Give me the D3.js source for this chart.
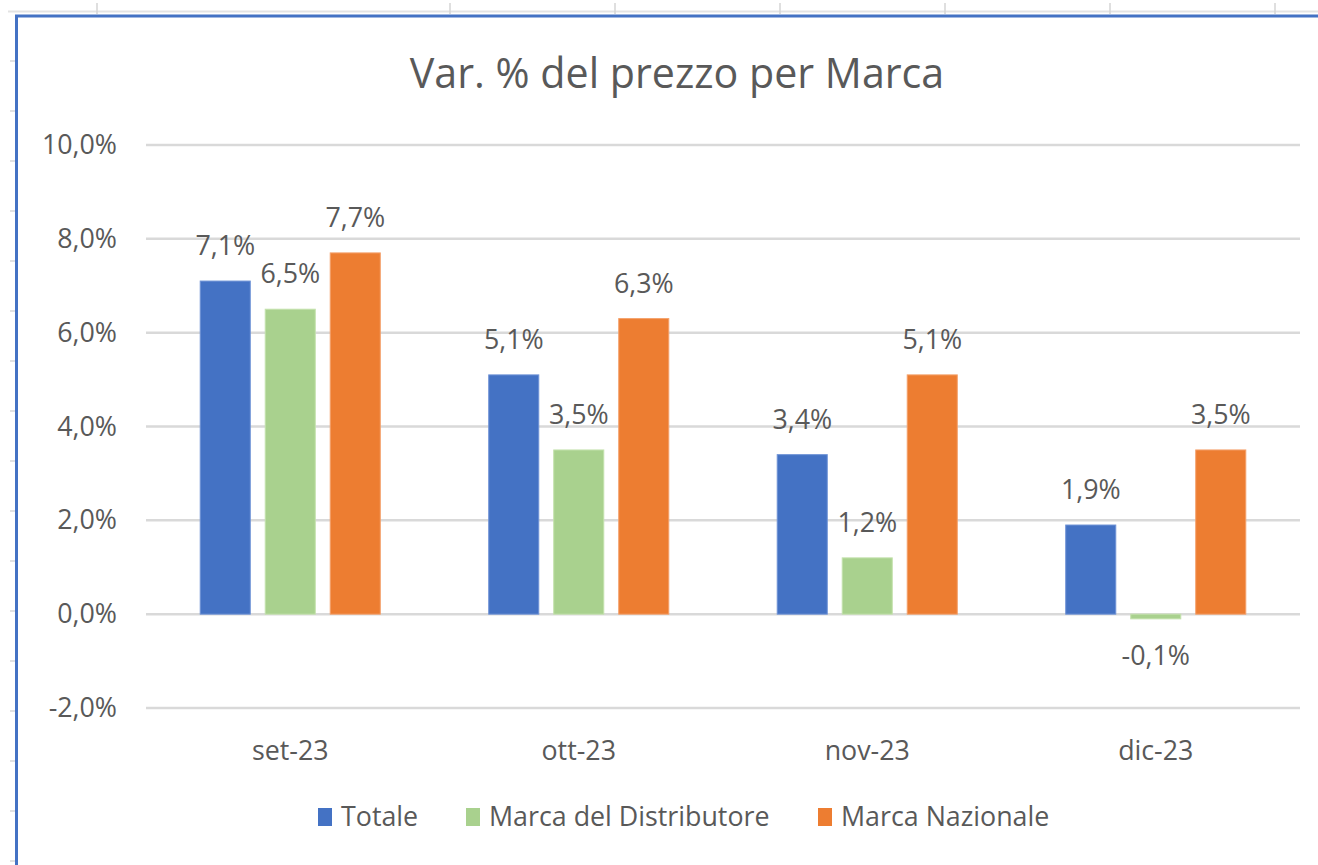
<!DOCTYPE html>
<html>
<head>
<meta charset="utf-8">
<script src="https://cdn.jsdelivr.net/npm/d3@7"></script>
<style>
  html, body { margin: 0; padding: 0; background: #ffffff; }
  svg { display: block; }
  text { font-family: "Open Sans", "Noto Sans", sans-serif; fill: #595959; }
</style>
</head>
<body>
<svg id="chart" width="1318" height="865"></svg>
<script>
// Chart data
const categories = ["set-23", "ott-23", "nov-23", "dic-23"];
const seriesNames = ["Totale", "Marca del Distributore", "Marca Nazionale"];
const totale = [7.1, 5.1, 3.4, 1.9];
const marcaDistributore = [6.5, 3.5, 1.2, -0.1];
const marcaNazionale = [7.7, 6.3, 5.1, 3.5];
const yTicks = [-2, 0, 2, 4, 6, 8, 10];
const seriesColors = ["#4472C4", "#A9D18E", "#ED7D31"];
const seriesEdges = ["#6f93d6", "#c4e2ad", "#f4a06a"];
const titleText = "Var. % del prezzo per Marca";

const seriesValues = [totale, marcaDistributore, marcaNazionale];

const svg = d3.select("#chart");
const W = 1318, H = 865;
const labelSize = "26.8px";

// Worksheet backdrop: header line with column marks, row marks on the left
const sheet = svg.append("g");
sheet.append("line")
  .attr("x1", 8).attr("x2", W).attr("y1", 11.5).attr("y2", 11.5)
  .attr("stroke", "#e3e3e3").attr("stroke-width", 2);
[97, 450, 615, 780, 945, 1110, 1275].forEach(cx => {
  sheet.append("line")
    .attr("x1", cx).attr("x2", cx).attr("y1", 3).attr("y2", 14)
    .attr("stroke", "#d4d4d4").attr("stroke-width", 1.5);
});
d3.range(61, H, 50).forEach(ry => {
  sheet.append("line")
    .attr("x1", 10).attr("x2", 16).attr("y1", ry).attr("y2", ry)
    .attr("stroke", "#d9d9d9").attr("stroke-width", 1.5);
});

// Chart frame (selected chart object)
svg.append("rect")
  .attr("x", 16.5).attr("y", 16)
  .attr("width", W + 40).attr("height", H + 40)
  .attr("fill", "#ffffff")
  .attr("stroke", "#4472C4").attr("stroke-width", 3);

// Title
svg.append("text")
  .attr("x", 677).attr("y", 88)
  .attr("text-anchor", "middle")
  .style("font-size", "41.2px")
  .text(titleText);

// Scales
const plotLeft = 146, plotRight = 1300;
const x0 = d3.scaleBand().domain(categories).range([plotLeft, plotRight]).paddingInner(0).paddingOuter(0);
const x1 = d3.scaleBand().domain(seriesNames).range([0, x0.bandwidth()]).paddingInner(0.23).paddingOuter(0.834);
const y = d3.scaleLinear().domain([-2, 10]).range([708, 145]);

// Horizontal gridlines
svg.append("g")
  .selectAll("line")
  .data(yTicks)
  .join("line")
  .attr("x1", plotLeft).attr("x2", plotRight)
  .attr("y1", d => y(d)).attr("y2", d => y(d))
  .attr("stroke", "#d9d9d9").attr("stroke-width", 2.5);

// Y axis labels
const fmtPct = v => d3.format(".1f")(v).replace(".", ",").replace("−", "-") + "%";
const yAxis = d3.axisLeft(y).tickValues(yTicks).tickSize(0).tickPadding(0).tickFormat(fmtPct);
const yg = svg.append("g").attr("transform", "translate(117,0)").call(yAxis);
yg.select(".domain").remove();
yg.selectAll("text")
  .attr("fill", "#595959")
  .style("font-family", "\"Open Sans\", \"Noto Sans\", sans-serif")
  .style("font-size", labelSize)
  .attr("dy", "0.32em");

// Bars
const groups = svg.append("g")
  .selectAll("g")
  .data(seriesNames)
  .join("g");

groups.each(function (name, si) {
  const vals = seriesValues[si];
  const g = d3.select(this);
  g.selectAll("rect")
    .data(vals.map((v, i) => ({ cat: categories[i], v })))
    .join("rect")
    .attr("x", d => x0(d.cat) + x1(name))
    .attr("width", x1.bandwidth())
    .attr("y", d => y(Math.max(0, d.v)))
    .attr("height", d => Math.abs(y(d.v) - y(0)))
    .attr("fill", seriesColors[si])
    .attr("stroke", seriesEdges[si])
    .attr("stroke-width", 1);

  g.selectAll("text")
    .data(vals.map((v, i) => ({ cat: categories[i], v })))
    .join("text")
    .attr("x", d => x0(d.cat) + x1(name) + x1.bandwidth() / 2)
    .attr("y", d => d.v >= 0 ? y(d.v) - 26 : y(d.v) + 46)
    .attr("text-anchor", "middle")
    .style("font-size", labelSize)
    .text(d => fmtPct(d.v));
});

// Category labels
const xAxis = d3.axisBottom(x0).tickSize(0).tickPadding(0);
const xg = svg.append("g").attr("transform", "translate(0,760)").call(xAxis);
xg.select(".domain").remove();
xg.selectAll("text")
  .attr("fill", "#595959")
  .attr("dy", 0)
  .style("font-family", "\"Open Sans\", \"Noto Sans\", sans-serif")
  .style("font-size", labelSize);

// Legend
const legendX = [318, 466, 818];
const legend = svg.append("g");
seriesNames.forEach((name, i) => {
  legend.append("rect")
    .attr("x", legendX[i]).attr("y", 808)
    .attr("width", 14).attr("height", 18)
    .attr("fill", seriesColors[i]);
  legend.append("text")
    .attr("x", legendX[i] + 23).attr("y", 826)
    .style("font-size", labelSize)
    .text(name);
});
</script>
</body>
</html>
